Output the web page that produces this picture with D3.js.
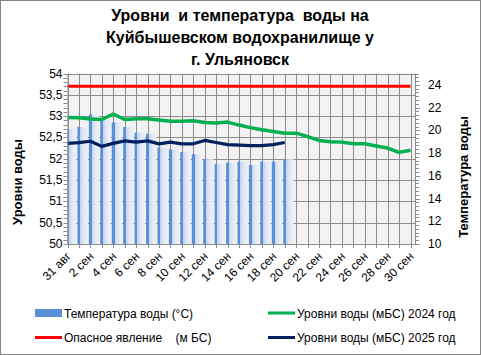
<!DOCTYPE html>
<html><head><meta charset="utf-8">
<script src="https://cdn.jsdelivr.net/npm/d3@7/dist/d3.min.js"></script>
<style>
body{margin:0;background:#fff}
text{font-family:"Liberation Sans",Arial,sans-serif;fill:#000}
</style>
</head><body>
<svg id="chart" width="481" height="355"></svg>
<script>
const categories = ["31 авг","1 сен","2 сен","3 сен","4 сен","5 сен","6 сен","7 сен","8 сен","9 сен","10 сен","11 сен","12 сен","13 сен","14 сен","15 сен","16 сен","17 сен","18 сен","19 сен","20 сен","21 сен","22 сен","23 сен","24 сен","25 сен","26 сен","27 сен","28 сен","29 сен","30 сен"];
const tempValues = [20.1,20.3,21.4,20.9,20.7,20.3,19.8,19.7,18.5,18.3,18.1,17.9,17.45,17.05,17.15,17.25,16.95,17.25,17.25,17.45];
const level2024 = [52.97,52.96,52.93,52.92,53.05,52.92,52.94,52.94,52.91,52.88,52.88,52.89,52.85,52.84,52.86,52.79,52.73,52.68,52.64,52.60,52.60,52.52,52.43,52.40,52.39,52.35,52.35,52.30,52.25,52.15,52.20];
const level2025 = [52.36,52.38,52.41,52.29,52.36,52.42,52.39,52.42,52.35,52.39,52.35,52.35,52.43,52.38,52.33,52.32,52.31,52.31,52.33,52.38];
const dangerLevel = 53.7;
const leftTicks = [50,50.5,51,51.5,52,52.5,53,53.5,54];
const rightTicks = [10,12,14,16,18,20,22,24];
const xLabelEvery = 2;
const titleLines = ["Уровни  и температура  воды на","Куйбышевском водохранилище у","г. Ульяновск"];
const legendItems = [
  {label:"Температура воды (°С)", kind:"bar", color:"#5b8fd8", col:0, row:0},
  {label:"Уровни воды (мБС) 2024 год", kind:"line", color:"#00b050", col:1, row:0},
  {label:"Опасное явление    (м БС)", kind:"line", color:"#ff0000", col:0, row:1},
  {label:"Уровни воды (мБС) 2025 год", kind:"line", color:"#002060", col:1, row:1}
];

const svg = d3.select("#chart");
const L = 67.5, R = 415, T = 73.5, B = 244;
const xEnd = 410.5;
const grid = "#8c8c8c";

const x = d3.scalePoint().domain(categories).range([L, xEnd]);
const yL = d3.scaleLinear().domain([50,54]).range([B,T]);
const yR = d3.scaleLinear().domain([10,25]).range([B,T]);
const fmt = d => String(d).replace(".", ",");

// outer border
svg.append("rect").attr("x",0.5).attr("y",0.5).attr("width",480).attr("height",354)
  .attr("fill","#fff").attr("stroke","#868686");

// title
svg.append("g").selectAll("text").data(titleLines).join("text")
  .attr("x",240).attr("y",(d,i)=>21+i*22).attr("text-anchor","middle")
  .attr("font-size","16px").attr("font-weight","bold").style("white-space","pre").text(d=>d);

// plot background
svg.append("rect").attr("x",L).attr("y",T).attr("width",R-L).attr("height",B-T).attr("fill","#f2f2f2");

// gridlines
svg.append("g").selectAll("line").data(leftTicks).join("line")
  .attr("x1",L).attr("x2",R).attr("y1",d=>Math.round(yL(d))+0.5).attr("y2",d=>Math.round(yL(d))+0.5)
  .attr("stroke",grid);
svg.append("g").selectAll("line").data(categories).join("line")
  .attr("x1",d=>Math.round(x(d))+0.5).attr("x2",d=>Math.round(x(d))+0.5).attr("y1",T).attr("y2",B)
  .attr("stroke",grid);

// bar gradient
const defs = svg.append("defs");
const g = defs.append("linearGradient").attr("id","barg").attr("x1","0").attr("x2","1").attr("y1","0").attr("y2","0");
[[0,"#5b8fd8"],[0.27,"#5b8fd8"],[0.27,"#c2d4f0"],[0.6,"#e2e9f4"],[1,"#eff1f4"]].forEach(s=>
  g.append("stop").attr("offset",s[0]).attr("stop-color",s[1]));
defs.append("clipPath").attr("id","pc").append("rect").attr("x",L).attr("y",T).attr("width",R-L).attr("height",B-T);

// bars
const step = x.step();
svg.append("g").attr("clip-path","url(#pc)").selectAll("rect").data(tempValues).join("rect")
  .attr("x",(d,i)=>x(categories[i])-1.5).attr("width",step-1)
  .attr("y",d=>yR(d)).attr("height",d=>B-yR(d)).attr("fill","url(#barg)");

// lines
const line = (ys) => d3.line().x((d,i)=>x(categories[i])).y(d=>ys(d));
svg.append("path").datum(categories.map(()=>dangerLevel)).attr("d",line(yL))
  .attr("fill","none").attr("stroke","#ff0000").attr("stroke-width",3);
svg.append("path").datum(level2024).attr("d",line(yL))
  .attr("fill","none").attr("stroke","#00b050").attr("stroke-width",3.5).attr("stroke-linejoin","round");
svg.append("path").datum(level2025).attr("d",line(yL))
  .attr("fill","none").attr("stroke","#002060").attr("stroke-width",3.2).attr("stroke-linejoin","round");

// left axis
const ax = svg.append("g");
ax.append("line").attr("x1",L+0.5).attr("x2",L+0.5).attr("y1",T).attr("y2",B).attr("stroke",grid);
ax.selectAll(".mn").data(d3.range(0,41)).join("line")
  .attr("x1",L-4).attr("x2",L).attr("y1",d=>Math.round(yL(50+d/10))+0.5).attr("y2",d=>Math.round(yL(50+d/10))+0.5)
  .attr("stroke",grid);
ax.selectAll("text").data(leftTicks).join("text")
  .attr("x",L-5).attr("y",d=>yL(d)+4).attr("text-anchor","end").attr("font-size","12px").text(fmt);

// right axis
const ar = svg.append("g");
ar.append("line").attr("x1",R+0.5).attr("x2",R+0.5).attr("y1",T).attr("y2",B).attr("stroke",grid);
ar.selectAll(".mn").data(d3.range(0,46)).join("line")
  .attr("x1",R).attr("x2",d=>d%6===0?R+5:R+4).attr("y1",d=>Math.round(yR(10+d/3))+0.5).attr("y2",d=>Math.round(yR(10+d/3))+0.5)
  .attr("stroke",grid);
ar.selectAll("text").data(rightTicks).join("text")
  .attr("x",R+13).attr("y",d=>yR(d)+4).attr("text-anchor","start").attr("font-size","12px").text(fmt);

// bottom axis
const ab = svg.append("g");
ab.append("line").attr("x1",L).attr("x2",R).attr("y1",B+0.5).attr("y2",B+0.5).attr("stroke",grid);
ab.selectAll("line.t").data(categories).join("line").attr("class","t")
  .attr("x1",d=>Math.round(x(d))+0.5).attr("x2",d=>Math.round(x(d))+0.5).attr("y1",B).attr("y2",B+4).attr("stroke",grid);
ab.selectAll("text").data(categories.filter((d,i)=>i%xLabelEvery===0)).join("text")
  .attr("transform",d=>`translate(${x(d)+4},${B+13}) rotate(-45)`)
  .attr("text-anchor","end").attr("font-size","12px").text(d=>d);

// axis titles
svg.append("text").attr("transform","translate(22,182) rotate(-90)").attr("text-anchor","middle")
  .attr("font-size","13px").attr("font-weight","bold").text("Уровни воды");
svg.append("text").attr("transform","translate(468,177) rotate(-90)").attr("text-anchor","middle")
  .attr("font-size","13px").attr("font-weight","bold").text("Температура воды");

// legend
const lg = svg.append("g");
const colX = [35, 268], rowY = [313, 337.5];
legendItems.forEach(it=>{
  const x0 = colX[it.col], y0 = rowY[it.row];
  if(it.kind==="bar"){
    lg.append("rect").attr("x",x0).attr("y",y0-4).attr("width",27).attr("height",8).attr("fill",it.color);
  } else {
    lg.append("line").attr("x1",x0).attr("x2",x0+27).attr("y1",y0).attr("y2",y0).attr("stroke",it.color).attr("stroke-width",3);
  }
  lg.append("text").attr("x",x0+29).attr("y",y0+4.5).attr("font-size","12px").style("white-space","pre").text(it.label);
});
</script>
</body></html>
